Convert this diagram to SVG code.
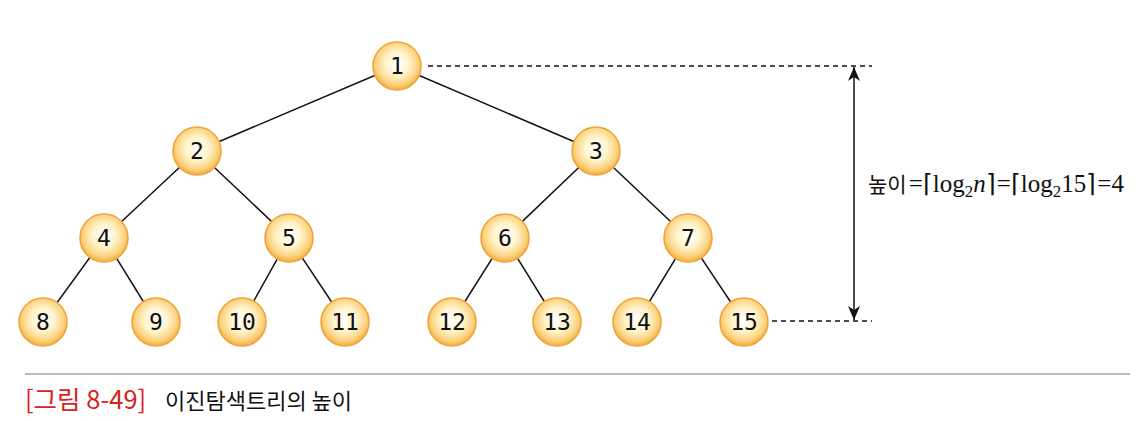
<svg xmlns="http://www.w3.org/2000/svg" width="1146" height="421" viewBox="0 0 1146 421">
<defs>
<radialGradient id="g" cx="50%" cy="45%" r="55%">
<stop offset="0" stop-color="#ffffff"/>
<stop offset="0.45" stop-color="#fff4cc"/>
<stop offset="0.8" stop-color="#fcd27e"/>
<stop offset="1" stop-color="#f5ac3c"/>
</radialGradient>
<marker id="ah" viewBox="0 0 14 14" refX="14" refY="7" markerWidth="14" markerHeight="14" orient="auto-start-reverse" markerUnits="userSpaceOnUse">
<path d="M0,1 L14,7 L0,13 L4,7 Z" fill="#111"/>
</marker>
<style>
.n circle{fill:url(#g);stroke:#eea43a;stroke-width:1.5}
.n text{font-family:"DejaVu Sans Mono","Liberation Mono",monospace;font-size:23px;fill:#111;text-anchor:middle;dominant-baseline:central}
.e line{stroke:#111;stroke-width:1.5}
.d{stroke:#333;stroke-width:1;stroke-dasharray:5 4}
</style>
</defs>
<rect width="1146" height="421" fill="#fff"/>
<g id="connectors" class="e">
<line x1="397" y1="66" x2="197" y2="151"/>
<line x1="397" y1="66" x2="596" y2="151"/>
<line x1="197" y1="151" x2="104" y2="238"/>
<line x1="197" y1="151" x2="289" y2="238"/>
<line x1="596" y1="151" x2="505" y2="238"/>
<line x1="596" y1="151" x2="688" y2="238"/>
<line x1="104" y1="238" x2="43" y2="322"/>
<line x1="104" y1="238" x2="156" y2="322"/>
<line x1="289" y1="238" x2="242" y2="322"/>
<line x1="289" y1="238" x2="345" y2="322"/>
<line x1="505" y1="238" x2="452" y2="322"/>
<line x1="505" y1="238" x2="557" y2="322"/>
<line x1="688" y1="238" x2="637" y2="322"/>
<line x1="688" y1="238" x2="744" y2="322"/>
<line class="d" x1="428" y1="66" x2="872" y2="66"/>
<line class="d" x1="772" y1="321" x2="872" y2="321"/>
<line x1="854" y1="67" x2="854" y2="320" marker-start="url(#ah)" marker-end="url(#ah)"/>
</g>
<g id="n1" class="n"><circle cx="397" cy="66" r="24"/><text x="397" y="66">1</text></g>
<g id="n2" class="n"><circle cx="197" cy="151" r="24"/><text x="197" y="151">2</text></g>
<g id="n3" class="n"><circle cx="596" cy="151" r="24"/><text x="596" y="151">3</text></g>
<g id="n4" class="n"><circle cx="104" cy="238" r="24"/><text x="104" y="238">4</text></g>
<g id="n5" class="n"><circle cx="289" cy="238" r="24"/><text x="289" y="238">5</text></g>
<g id="n6" class="n"><circle cx="505" cy="238" r="24"/><text x="505" y="238">6</text></g>
<g id="n7" class="n"><circle cx="688" cy="238" r="24"/><text x="688" y="238">7</text></g>
<g id="n8" class="n"><circle cx="43" cy="322" r="24"/><text x="43" y="322">8</text></g>
<g id="n9" class="n"><circle cx="156" cy="322" r="24"/><text x="156" y="322">9</text></g>
<g id="n10" class="n"><circle cx="242" cy="322" r="24"/><text x="242" y="322">10</text></g>
<g id="n11" class="n"><circle cx="345" cy="322" r="24"/><text x="345" y="322">11</text></g>
<g id="n12" class="n"><circle cx="452" cy="322" r="24"/><text x="452" y="322">12</text></g>
<g id="n13" class="n"><circle cx="557" cy="322" r="24"/><text x="557" y="322">13</text></g>
<g id="n14" class="n"><circle cx="637" cy="322" r="24"/><text x="637" y="322">14</text></g>
<g id="n15" class="n"><circle cx="744" cy="322" r="24"/><text x="744" y="322">15</text></g>
<g id="formula">
<text x="868" y="192" font-family="'Liberation Serif','Noto Sans CJK KR',serif" font-size="25" fill="#111"><tspan font-family="'Noto Sans CJK KR',sans-serif" font-size="21">높이</tspan><tspan dx="2">=</tspan>⌈log<tspan font-size="17" dy="5">2</tspan><tspan dy="-5" font-style="italic">n</tspan>⌉<tspan dx="1">=</tspan>⌈log<tspan font-size="17" dy="5">2</tspan><tspan dy="-5">15</tspan>⌉<tspan dx="1">=</tspan>4</text>
</g>
<line x1="25" y1="374" x2="1130" y2="374" stroke="#777" stroke-width="1.2"/>
<g id="caption">
<text x="25" y="409" font-family="'Noto Sans CJK KR',sans-serif" font-size="25.5" fill="#d8241c">[그림 8-49]</text>
<text x="165" y="409" font-family="'Noto Sans CJK KR',sans-serif" font-size="22" fill="#111">이진탐색트리의 높이</text>
</g>
</svg>
